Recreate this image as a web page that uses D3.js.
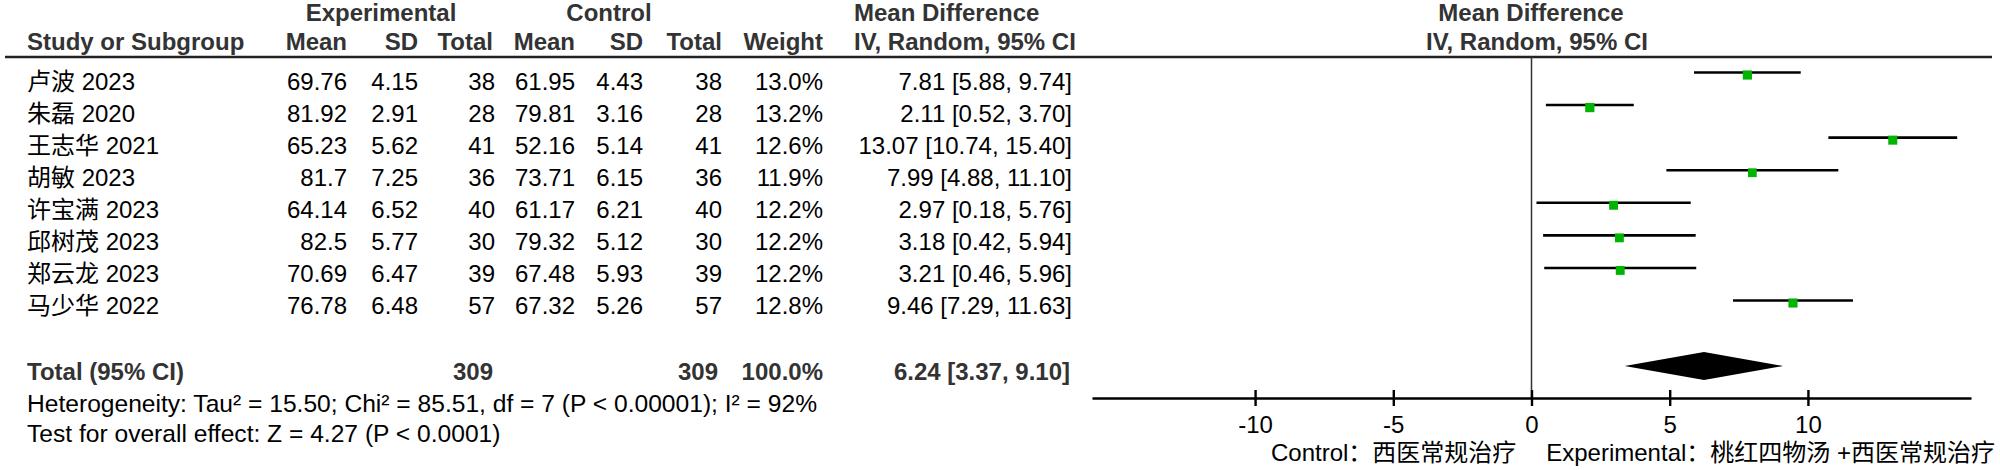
<!DOCTYPE html>
<html>
<head>
<meta charset="utf-8">
<script src="https://cdn.jsdelivr.net/npm/d3@7"></script>
<style>
    body { margin: 0; background: #fff; }
    svg text { font-family: "Liberation Sans", Arial, "Noto Sans CJK SC", sans-serif; font-size: 24px; fill: #000; }
    svg text.bold { font-weight: bold; fill: #333; }
    svg text.note { font-size: 24.6px; }
</style>
</head>
<body>
<script>
// study rows
var studies = ["卢波 2023", "朱磊 2020", "王志华 2021", "胡敏 2023", "许宝满 2023", "邱树茂 2023", "郑云龙 2023", "马少华 2022"];
var expMean = [69.76, 81.92, 65.23, 81.7, 64.14, 82.5, 70.69, 76.78];
var expSD = [4.15, 2.91, 5.62, 7.25, 6.52, 5.77, 6.47, 6.48];
var expN = [38, 28, 41, 36, 40, 30, 39, 57];
var ctrlMean = [61.95, 79.81, 52.16, 73.71, 61.17, 79.32, 67.48, 67.32];
var ctrlSD = [4.43, 3.16, 5.14, 6.15, 6.21, 5.12, 5.93, 5.26];
var ctrlN = [38, 28, 41, 36, 40, 30, 39, 57];
var weight = [13.0, 13.2, 12.6, 11.9, 12.2, 12.2, 12.2, 12.8];
var md = [7.81, 2.11, 13.07, 7.99, 2.97, 3.18, 3.21, 9.46];
var mdLo = [5.88, 0.52, 10.74, 4.88, 0.18, 0.42, 0.46, 7.29];
var mdHi = [9.74, 3.70, 15.40, 11.10, 5.76, 5.94, 5.96, 11.63];

// pooled result
var totalExpN = 309, totalCtrlN = 309, totalWeight = 100.0;
var pooled = [6.24, 3.37, 9.10]; // estimate, low, high
var xTicks = [-10, -5, 0, 5, 10];
var heterogeneity = "Heterogeneity: Tau² = 15.50; Chi² = 85.51, df = 7 (P < 0.00001); I² = 92%";
var overall = "Test for overall effect: Z = 4.27 (P < 0.0001)";
var favLeft = "Control：西医常规治疗";
var favRight = "Experimental：桃红四物汤 +西医常规治疗";

var W = 2000, H = 470;
var svg = d3.select("body").append("svg")
    .attr("width", W)
    .attr("height", H);

var rows = d3.range(studies.length);
var yText = d3.scaleLinear().domain([0, studies.length - 1]).range([90, 314]);
var yMark = d3.scaleLinear().domain([0, studies.length - 1]).range([72.5, 300.5]);
var x = d3.scaleLinear().domain([-15.9, 15.9]).range([1092, 1971]);

function fmtCI(m, l, h) {
    return m.toFixed(2) + " [" + l.toFixed(2) + ", " + h.toFixed(2) + "]";
}

// headers
function label(txt, xx, yy, anchor, cls) {
    return svg.append("text")
        .attr("class", cls || null)
        .attr("x", xx).attr("y", yy)
        .attr("text-anchor", anchor)
        .text(txt);
}
label("Experimental", 381, 21, "middle", "bold");
label("Control", 609, 21, "middle", "bold");
label("Mean Difference", 854, 21, "start", "bold");
label("Mean Difference", 1531, 21, "middle", "bold");

label("Study or Subgroup", 27, 50, "start", "bold");
label("Mean", 347, 50, "end", "bold");
label("SD", 418, 50, "end", "bold");
label("Total", 493, 50, "end", "bold");
label("Mean", 575, 50, "end", "bold");
label("SD", 643, 50, "end", "bold");
label("Total", 722, 50, "end", "bold");
label("Weight", 823, 50, "end", "bold");
label("IV, Random, 95% CI", 854, 50, "start", "bold");
label("IV, Random, 95% CI", 1537, 50, "middle", "bold");

svg.append("line")
    .attr("x1", 5).attr("x2", 1992)
    .attr("y1", 57).attr("y2", 57)
    .attr("stroke", "#222").attr("stroke-width", 2.5);

// table columns
var columns = [
    {x: 27, anchor: "start", f: function(i) { return studies[i]; }},
    {x: 347, anchor: "end", f: function(i) { return String(expMean[i]); }},
    {x: 418, anchor: "end", f: function(i) { return expSD[i].toFixed(2); }},
    {x: 495, anchor: "end", f: function(i) { return expN[i]; }},
    {x: 575, anchor: "end", f: function(i) { return String(ctrlMean[i]); }},
    {x: 643, anchor: "end", f: function(i) { return ctrlSD[i].toFixed(2); }},
    {x: 722, anchor: "end", f: function(i) { return ctrlN[i]; }},
    {x: 823, anchor: "end", f: function(i) { return weight[i].toFixed(1) + "%"; }},
    {x: 1072, anchor: "end", f: function(i) { return fmtCI(md[i], mdLo[i], mdHi[i]); }}
];

columns.forEach(function(c) {
    svg.append("g").selectAll("text")
        .data(rows)
        .enter().append("text")
        .attr("x", c.x)
        .attr("y", function(i) { return yText(i); })
        .attr("text-anchor", c.anchor)
        .text(c.f);
});

// total row
label("Total (95% CI)", 27, 380, "start", "bold");
label(totalExpN, 493, 380, "end", "bold");
label(totalCtrlN, 718, 380, "end", "bold");
label(totalWeight.toFixed(1) + "%", 823, 380, "end", "bold");
label(fmtCI(pooled[0], pooled[1], pooled[2]), 1070, 380, "end", "bold");
label(heterogeneity, 27, 412, "start", "note");
label(overall, 27, 442, "start", "note");

// zero line
svg.append("line")
    .attr("x1", x(0)).attr("x2", x(0))
    .attr("y1", 57).attr("y2", 398)
    .attr("stroke", "#333").attr("stroke-width", 1.5);

// CI lines
svg.selectAll(".ci")
    .data(rows)
    .enter().append("line")
    .attr("class", "ci")
    .attr("x1", function(i) { return x(mdLo[i]); })
    .attr("x2", function(i) { return x(mdHi[i]); })
    .attr("y1", function(i) { return yMark(i); })
    .attr("y2", function(i) { return yMark(i); })
    .attr("stroke", "#000").attr("stroke-width", 2.6);

// weight squares
function sq(i) { return 9 * Math.sqrt(weight[i] / 12.5); }
svg.selectAll(".sq")
    .data(rows)
    .enter().append("rect")
    .attr("class", "sq")
    .attr("width", sq)
    .attr("height", sq)
    .attr("x", function(i) { return x(md[i]) - sq(i) / 2; })
    .attr("y", function(i) { return yMark(i) + 2.5 - sq(i) / 2; })
    .attr("fill", "#00b400");

// pooled diamond
var dy = 366;
svg.append("polygon")
    .attr("points", [
        [x(pooled[1]), dy], [x(pooled[0]), dy - 14],
        [x(pooled[2]), dy], [x(pooled[0]), dy + 14]
    ].map(function(p) { return p.join(","); }).join(" "))
    .attr("fill", "#000");

// axis
var xAxis = d3.axisBottom(x)
    .tickValues(xTicks)
    .tickSizeInner(8)
    .tickSizeOuter(0)
    .tickFormat(function(d) { return String(d); });

var ax = svg.append("g")
    .attr("transform", "translate(0,398)")
    .call(xAxis);
ax.select(".domain").attr("stroke", "#000").attr("stroke-width", 2.6);
ax.selectAll(".tick line").attr("y1", -8).attr("stroke", "#000").attr("stroke-width", 2.4);
ax.selectAll(".tick text")
    .attr("y", 35).attr("dy", null)
    .style("font-size", "24px")
    .style("font-family", "\"Liberation Sans\", Arial, sans-serif")
    .attr("fill", "#000");

label(favLeft, 1271, 461, "start");
label(favRight, 1995, 461, "end");
</script>
</body>
</html>
